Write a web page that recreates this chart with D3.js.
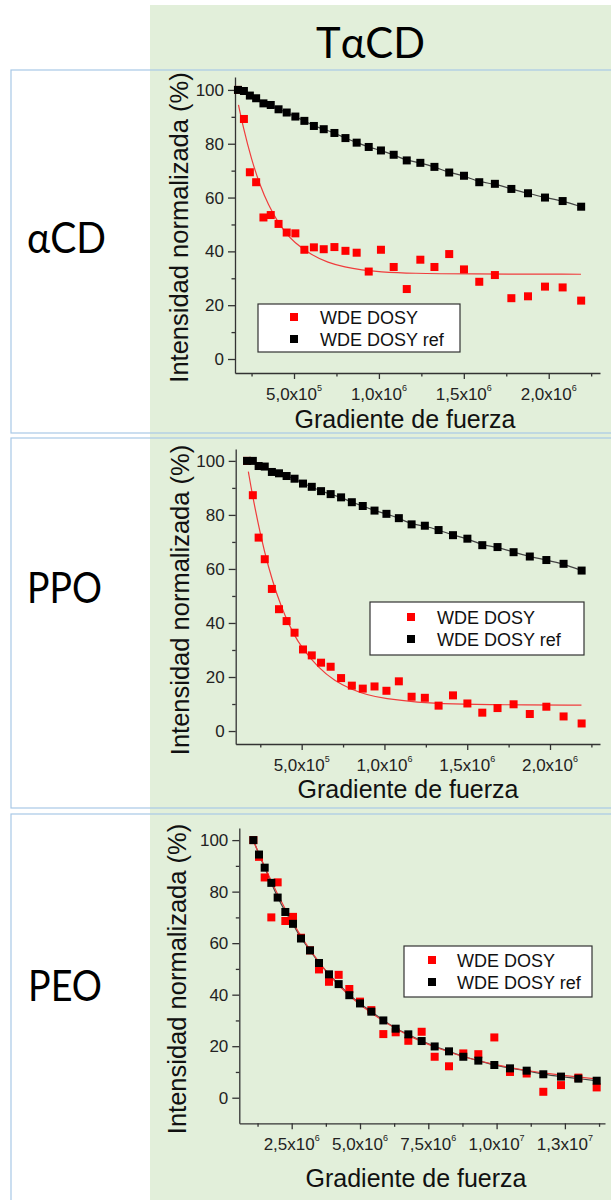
<!DOCTYPE html>
<html><head><meta charset="utf-8">
<script src="https://cdn.jsdelivr.net/npm/d3@7"></script>
<style>body{margin:0;background:#fff}svg{display:block}</style>
</head><body>
<script>
// ---------------- DATA ----------------
const panelTitle = "TαCD";
const rowLabels = ["αCD", "PPO", "PEO"];
const seriesNames = ["WDE DOSY", "WDE DOSY ref"];
const yTitle = "Intensidad normalizada (%)";
const xTitle = "Gradiente de fuerza";

// gradient values (shared by αCD and PPO)
const gradA = [1.70e5,2.05e5,2.40e5,2.77e5,3.20e5,3.63e5,4.09e5,4.57e5,5.08e5,5.61e5,6.17e5,6.75e5,7.38e5,8.03e5,8.69e5,9.40e5,1.012e6,1.087e6,1.164e6,1.244e6,1.327e6,1.414e6,1.501e6,1.591e6,1.683e6,1.780e6,1.878e6,1.978e6,2.082e6,2.191e6];
// αCD
const alphaRef = [100,99.6,97.9,96.9,95.0,94.4,92.8,91.6,90.1,88.5,86.6,85.4,84.0,82.1,80.4,78.8,77.5,75.9,73.8,72.9,71.4,69.3,68.1,65.7,65.1,63.2,61.6,60.0,58.7,56.6];
const alphaWde = [100,89.2,69.4,65.7,52.6,53.5,50.2,47.0,46.7,40.6,41.5,40.8,41.6,40.2,39.5,32.5,40.6,34.2,26.0,36.9,34.2,39.0,33.3,28.7,31.2,22.6,23.3,26.9,26.6,21.7];
const alphaFitX = [1.73e5,2.0e5,2.5e5,3.0e5,3.5e5,4.0e5,4.5e5,5.0e5,6.0e5,7.0e5,8.0e5,9.0e5,1.0e6,1.2e6,1.5e6,2.19e6];
const alphaFitY = [94.4,86.3,74.0,64.5,57.1,51.4,46.9,43.4,38.7,35.8,34.1,33.1,32.4,31.8,31.6,31.5];
// PPO
const ppoRef = [100,100,98.1,97.9,95.9,95.4,94.4,93.4,91.6,90.4,88.8,87.7,86.5,84.7,83.3,81.6,80.4,78.8,76.5,76.0,74.4,72.5,71.2,68.8,68.1,66.2,64.6,63.3,61.9,59.4];
const ppoWde = [100,87.3,71.6,63.6,52.6,45.1,40.7,36.4,30.2,28.0,25.3,23.8,19.6,16.8,15.7,16.5,14.9,18.4,12.7,12.3,9.4,13.2,10.2,6.8,8.5,9.9,6.3,9.0,5.4,2.8];
const ppoFitX = [1.78e5,2.0e5,2.5e5,3.0e5,3.5e5,4.0e5,4.5e5,5.0e5,6.0e5,7.0e5,8.0e5,9.0e5,1.0e6,1.2e6,1.4e6,1.7e6,2.19e6];
const ppoFitY = [96.0,88.1,72.8,60.4,50.5,42.5,36.0,30.9,23.4,18.5,15.4,13.3,12.0,10.6,10.0,9.7,9.6];
// PEO
const gradP = [1.096e6,1.303e6,1.511e6,1.754e6,1.986e6,2.267e6,2.548e6,2.840e6,3.170e6,3.499e6,3.865e6,4.219e6,4.609e6,5.000e6,5.415e6,5.854e6,6.306e6,6.769e6,7.257e6,7.733e6,8.258e6,8.782e6,9.331e6,9.917e6,1.0490e7,1.1101e7,1.1710e7,1.2357e7,1.2992e7,1.3663e7];
const peoRef = [100,94.4,89.3,83.4,77.7,72.1,67.5,61.8,57.2,52.3,47.9,44.1,39.8,36.6,33.4,30.0,26.8,24.6,22.0,19.9,18.0,15.9,14.4,12.7,11.4,10.5,9.1,8.2,7.4,6.6];
const peoWde = [100,93.5,85.5,70.0,83.6,68.6,70.2,62.1,57.2,49.8,45.0,47.7,42.2,37.3,34.0,24.7,25.4,22.1,25.6,15.9,12.2,17.2,16.9,23.4,10.0,9.4,2.3,4.9,7.8,4.0];
const peoFitX = [1.10e6,1.5e6,2.0e6,2.5e6,3.0e6,3.5e6,4.0e6,4.5e6,5.0e6,6.0e6,7.0e6,8.0e6,9.0e6,1.0e7,1.1e7,1.2e7,1.3e7,1.366e7];
const peoFitY = [99.6,89.8,78.5,68.5,60.0,52.5,46.0,40.6,36.0,28.5,22.8,18.6,15.2,12.6,10.7,9.2,8.0,7.3];

// ticks
const yMajor = [0,20,40,60,80,100];
const yMinor = [10,30,50,70,90];
const xMajorA = [5e5,1e6,1.5e6,2e6];
const xMantA = ["5,0","1,0","1,5","2,0"];
const xExpA = ["5","6","6","6"];
const xMinorA = [2.5e5,7.5e5,1.25e6,1.75e6,2.25e6];
const xMajorP = [2.5e6,5e6,7.5e6,1e7,1.25e7];
const xMantP = ["2,5","5,0","7,5","1,0","1,3"];
const xExpP = ["6","6","6","7","7"];
const xMinorP = [1.25e6,3.75e6,6.25e6,8.75e6,1.125e7,1.375e7];

// ---------------- LAYOUT ----------------
const panels = [
  {label:rowLabels[0], lx:27, lby:253, lw:79, box:[70,433],
   x:gradA, ref:alphaRef, wde:alphaWde, fx:alphaFitX, fy:alphaFitY,
   xMaj:xMajorA, mant:xMantA, exp:xExpA, xMin:xMinorA,
   L:235, R:600, T:77, B:373, xd:[1.525e5,2.302e6], yd:[-5.2,104.8],
   yt:[188,227.5], xt:[405,428], tlb:400, leg:[258,304,202,48,294,317,339,320]},
  {label:rowLabels[1], lx:27, lby:603, lw:75, box:[438,808],
   x:gradA, ref:ppoRef, wde:ppoWde, fx:ppoFitX, fy:ppoFitY,
   xMaj:xMajorA, mant:xMantA, exp:xExpA, xMin:xMinorA,
   L:235.7, R:600, T:449, B:744, xd:[1.015e5,2.302e6], yd:[-4.8,104.4],
   yt:[189,600], xt:[408,798], tlb:771, leg:[370,602,214,53,411,617,639,437]},
  {label:rowLabels[2], lx:28, lby:1001, lw:74, box:[814,1215],
   x:gradP, ref:peoRef, wde:peoWde, fx:peoFitX, fy:peoFitY,
   xMaj:xMajorP, mant:xMantP, exp:xExpP, xMin:xMinorP,
   L:239.3, R:605, T:828, B:1123.3, xd:[5.82e5,1.3968e7], yd:[-9.93,104.7],
   yt:[186,979], xt:[416,1186.7], tlb:1150, leg:[404,946,188,51,432,960,982,457]}
];

const svg = d3.select("body").append("svg").attr("width",611).attr("height",1200);
svg.append("rect").attr("x",0).attr("y",0).attr("width",611).attr("height",1200).attr("fill","#fff");
svg.append("rect").attr("x",150).attr("y",5).attr("width",470).attr("height",1200).attr("fill","#e2efda");

const calib = "Lato, 'Open Sans', sans-serif";
const arial = "'Liberation Sans', Arial, sans-serif";

svg.append("text").attr("x",316).attr("y",58).attr("font-family",calib).attr("font-size",43)
  .attr("textLength",109).attr("lengthAdjust","spacingAndGlyphs").attr("fill","#000").text(panelTitle);

panels.forEach(p => {
  svg.append("rect").attr("x",11).attr("y",p.box[0]).attr("width",640).attr("height",p.box[1]-p.box[0])
    .attr("fill","none").attr("stroke","#a8c8e6").attr("stroke-width",1.2);
  svg.append("text").attr("x",p.lx).attr("y",p.lby).attr("font-family",calib).attr("font-size",42)
    .attr("textLength",p.lw).attr("lengthAdjust","spacingAndGlyphs").attr("fill","#000").text(p.label);

  const x = d3.scaleLinear().domain(p.xd).range([p.L,p.R]);
  const y = d3.scaleLinear().domain(p.yd).range([p.B,p.T]);
  const g = svg.append("g");

  // axes
  const ax = g.append("g").attr("transform",`translate(0,${p.B})`)
    .call(d3.axisBottom(x).tickValues(p.xMaj).tickSize(6).tickSizeOuter(0).tickFormat(""));
  const axm = g.append("g").attr("transform",`translate(0,${p.B})`)
    .call(d3.axisBottom(x).tickValues(p.xMin).tickSize(3.5).tickSizeOuter(0).tickFormat(""));
  axm.select(".domain").remove();
  const ay = g.append("g").attr("transform",`translate(${p.L},0)`)
    .call(d3.axisLeft(y).tickValues(yMajor).tickSize(7).tickPadding(4).tickSizeOuter(0).tickFormat(d3.format("d")));
  const aym = g.append("g").attr("transform",`translate(${p.L},0)`)
    .call(d3.axisLeft(y).tickValues(yMinor).tickSize(3.5).tickSizeOuter(0).tickFormat(""));
  aym.select(".domain").remove();
  [ax,axm,ay,aym].forEach(a => {
    a.selectAll("path,line").attr("stroke","#333").attr("stroke-width",1.3);
  });
  ay.selectAll("text").attr("font-family",arial).attr("font-size",17).attr("fill","#222");

  // x tick labels with superscript exponent
  p.xMaj.forEach((v,i) => {
    const t = g.append("text").attr("x",x(v)).attr("y",p.tlb).attr("text-anchor","middle")
      .attr("font-family",arial).attr("font-size",17).attr("fill","#222");
    t.append("tspan").text(p.mant[i] + "x10");
    t.append("tspan").attr("font-size",9).attr("dy",-9).text(p.exp[i]);
  });

  // axis titles
  g.append("text").attr("transform",`translate(${p.yt[0]},${p.yt[1]}) rotate(-90)`).attr("text-anchor","middle")
    .attr("font-family",arial).attr("font-size",25.5).attr("fill","#111").text(yTitle);
  g.append("text").attr("x",p.xt[0]).attr("y",p.xt[1]).attr("text-anchor","middle")
    .attr("font-family",arial).attr("font-size",25).attr("fill","#111").text(xTitle);

  // fit lines
  const fit = p.fx.map((v,i)=>[v,p.fy[i]]);
  const refPts = p.x.map((v,i)=>[v,p.ref[i]]);
  const line = d3.line().x(d=>x(d[0])).y(d=>y(d[1])).curve(d3.curveBasis);
  g.append("path").attr("d",line(refPts)).attr("fill","none").attr("stroke","#444").attr("stroke-width",1.2);
  g.append("path").attr("d",line(fit)).attr("fill","none").attr("stroke","#f03c3c").attr("stroke-width",1.2);

  const s = 8;
  g.append("g").selectAll("rect").data(p.x.map((v,i)=>[v,p.wde[i]])).join("rect")
    .attr("x",d=>x(d[0])-s/2).attr("y",d=>y(d[1])-s/2).attr("width",s).attr("height",s).attr("fill","#ff0000");
  g.append("g").selectAll("rect").data(refPts).join("rect")
    .attr("x",d=>x(d[0])-s/2).attr("y",d=>y(d[1])-s/2).attr("width",s).attr("height",s).attr("fill","#000");

  // legend
  const [lx,ly,lw,lh,sx,r1,r2,tx] = p.leg;
  g.append("rect").attr("x",lx).attr("y",ly).attr("width",lw).attr("height",lh)
    .attr("fill","#fff").attr("stroke","#333").attr("stroke-width",1.2);
  [[r1,"#ff0000",seriesNames[0]],[r2,"#000",seriesNames[1]]].forEach(([ry,c,name]) => {
    g.append("rect").attr("x",sx-s/2).attr("y",ry-s/2).attr("width",s).attr("height",s).attr("fill",c);
    g.append("text").attr("x",tx).attr("y",ry+6.5).attr("font-family",arial).attr("font-size",18)
      .attr("fill","#111").text(name);
  });
});
</script>
</body></html>
